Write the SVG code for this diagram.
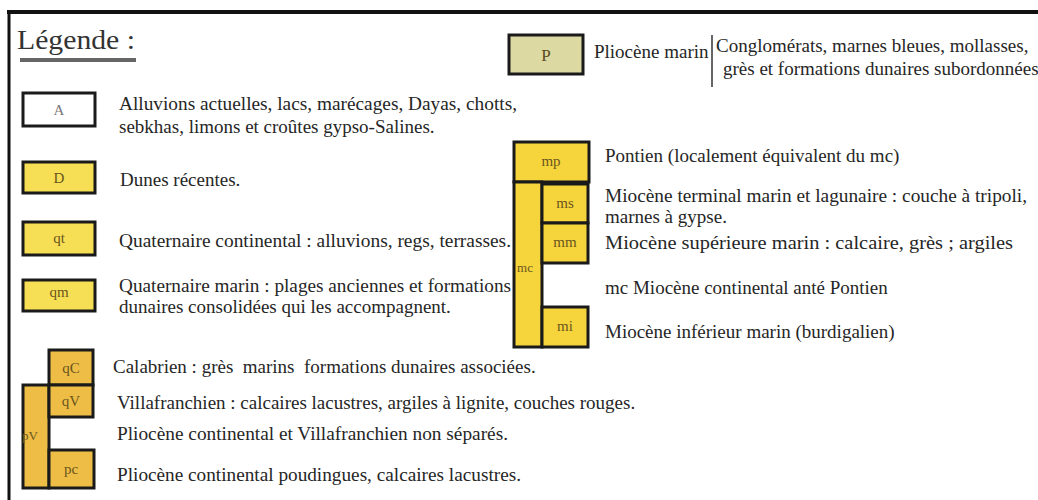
<svg xmlns="http://www.w3.org/2000/svg" width="1038" height="500" viewBox="0 0 1038 500">
<style>
.t{font-family:"Liberation Serif","Times New Roman",serif;font-size:19px;fill:#262626}
.b{stroke:#1a1a1a;stroke-width:3}
.y{fill:#f6df55}
.o{fill:#eebd45}
.g{fill:#f5d43c}
.l{font-family:"Liberation Serif","Times New Roman",serif;font-size:15px;fill:#6a5520;text-anchor:middle}
</style>
<rect width="1038" height="500" fill="#ffffff"/>
<g id="frame">
<line x1="7" y1="12" x2="1038" y2="12" stroke="#111" stroke-width="4"/>
<line x1="9" y1="10" x2="9" y2="500" stroke="#111" stroke-width="3"/>
</g>
<g id="title">
<text x="17" y="49" style="font-family:'Liberation Serif',serif;font-size:28px;fill:#333" textLength="118" lengthAdjust="spacingAndGlyphs">Légende :</text>
<rect x="20" y="58" width="116" height="4" fill="#666"/>
</g>
<g id="node-A">
<rect class="b" x="23" y="93" width="72" height="33" fill="#fff"/>
<text class="l" x="59" y="115" style="fill:#777">A</text>
<text class="t" x="119" y="110" textLength="398" lengthAdjust="spacingAndGlyphs">Alluvions actuelles, lacs, marécages, Dayas, chotts,</text>
<text class="t" x="119" y="133">sebkhas, limons et croûtes gypso-Salines.</text>
</g>
<g id="node-D">
<rect class="b y" x="23" y="162" width="72" height="31"/>
<text class="l" x="59" y="183">D</text>
<text class="t" x="120" y="186">Dunes récentes.</text>
</g>
<g id="node-qt">
<rect class="b y" x="23" y="222" width="72" height="33"/>
<text class="l" x="59" y="243">qt</text>
<text class="t" x="119" y="247" textLength="392" lengthAdjust="spacingAndGlyphs">Quaternaire continental : alluvions, regs, terrasses.</text>
</g>
<g id="node-qm">
<rect class="b y" x="23" y="280" width="72" height="31"/>
<text class="l" x="59" y="297">qm</text>
<text class="t" x="119" y="292" textLength="392" lengthAdjust="spacingAndGlyphs">Quaternaire marin : plages anciennes et formations</text>
<text class="t" x="119" y="313">dunaires consolidées qui les accompagnent.</text>
</g>
<g id="node-qC">
<rect class="b o" x="49" y="350" width="44" height="35"/>
<text class="l" x="71" y="373">qC</text>
<text class="t" x="113" y="373" xml:space="preserve">Calabrien : grès  marins  formations dunaires associées.</text>
</g>
<g id="node-pV">
<rect class="b o" x="23" y="385" width="26" height="103"/>
<text class="l" x="30" y="440" style="font-size:13px">pV</text>
<text class="t" x="117" y="440" textLength="391" lengthAdjust="spacingAndGlyphs">Pliocène continental et Villafranchien non séparés.</text>
</g>
<g id="node-qV">
<rect class="b o" x="49" y="385" width="44" height="32"/>
<text class="l" x="71" y="406">qV</text>
<text class="t" x="117" y="409">Villafranchien : calcaires lacustres, argiles à lignite, couches rouges.</text>
</g>
<g id="node-pc">
<rect class="b o" x="49" y="450" width="45" height="38"/>
<text class="l" x="71" y="474">pc</text>
<text class="t" x="117" y="481" textLength="404" lengthAdjust="spacingAndGlyphs">Pliocène continental poudingues, calcaires lacustres.</text>
</g>
<g id="node-P">
<rect class="b" x="509" y="35" width="74" height="39" fill="#dcd9a2"/>
<text class="l" x="546" y="61" style="font-size:17px;fill:#5a4a20">P</text>
<text class="t" x="594" y="58">Pliocène marin</text>
<line x1="712" y1="35" x2="712" y2="87" stroke="#333" stroke-width="1.5"/>
<text class="t" x="716" y="52">Conglomérats, marnes bleues, mollasses,</text>
<text class="t" x="723" y="75">grès et formations dunaires subordonnées</text>
</g>
<g id="node-mp">
<rect class="b g" x="514" y="142" width="75" height="40"/>
<text class="l" x="551" y="166">mp</text>
<text class="t" x="605" y="162">Pontien (localement équivalent du mc)</text>
</g>
<g id="node-mc">
<rect class="b g" x="514" y="182" width="28" height="165"/>
<text class="l" x="525" y="272" style="font-size:13px">mc</text>
<text class="t" x="605" y="294">mc Miocène continental anté Pontien</text>
</g>
<g id="node-ms">
<rect class="b g" x="542" y="184" width="46" height="39"/>
<text class="l" x="565" y="208">ms</text>
<text class="t" x="605" y="202" textLength="422" lengthAdjust="spacingAndGlyphs">Miocène terminal marin et lagunaire : couche à tripoli,</text>
<text class="t" x="605" y="223">marnes à gypse.</text>
</g>
<g id="node-mm">
<rect class="b g" x="542" y="223" width="46" height="40"/>
<text class="l" x="565" y="247">mm</text>
<text class="t" x="605" y="249" textLength="408" lengthAdjust="spacingAndGlyphs">Miocène supérieure marin : calcaire, grès ; argiles</text>
</g>
<g id="node-mi">
<rect class="b g" x="542" y="307" width="46" height="40"/>
<text class="l" x="565" y="331">mi</text>
<text class="t" x="605" y="338">Miocène inférieur marin (burdigalien)</text>
</g>
<g id="connectors"/>
</svg>
